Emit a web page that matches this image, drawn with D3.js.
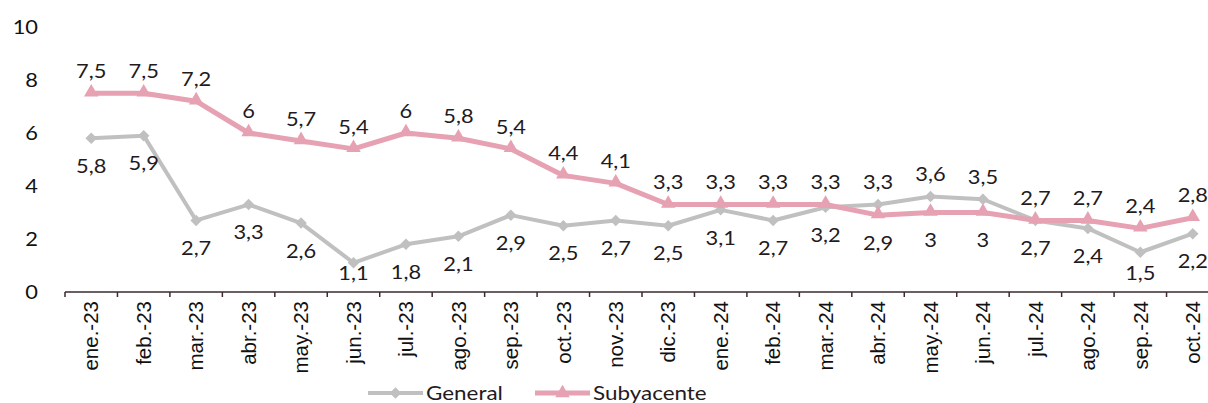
<!DOCTYPE html>
<html>
<head>
<meta charset="utf-8">
<script src="https://cdn.jsdelivr.net/npm/d3@7"></script>
<style>
  body { margin: 0; background: #fff; }
  svg { display: block; }
</style>
</head>
<body>
<svg id="chart" width="1208" height="403"></svg>
<script>
const months = ["ene.-23", "feb.-23", "mar.-23", "abr.-23", "may.-23", "jun.-23", "jul.-23", "ago.-23",
  "sep.-23", "oct.-23", "nov.-23", "dic.-23", "ene.-24", "feb.-24", "mar.-24", "abr.-24", "may.-24",
  "jun.-24", "jul.-24", "ago.-24", "sep.-24", "oct.-24"];
const general = [5.8, 5.9, 2.7, 3.3, 2.6, 1.1, 1.8, 2.1, 2.9, 2.5, 2.7, 2.5, 3.1, 2.7, 3.2, 3.3, 3.6, 3.5, 2.7, 2.4, 1.5, 2.2];
const subyacente = [7.5, 7.5, 7.2, 6, 5.7, 5.4, 6, 5.8, 5.4, 4.4, 4.1, 3.3, 3.3, 3.3, 3.3, 2.9, 3, 3, 2.7, 2.7, 2.4, 2.8];
const yTicks = [0, 2, 4, 6, 8, 10];

const grey = "#c0c0c0";
const pink = "#e6a1b3";
const labelColor = "#231a1e";
const stretch = 1.15; // text in the original is a bit wider than Lato
const fmt = v => String(v).replace(".", ",");

const svg = d3.select("#chart");

const x = d3.scaleBand().domain(months).range([65, 1219]).padding(0);
const y = d3.scaleLinear().domain([0, 10]).range([292, 27]);
const cx = d => x(d) + x.bandwidth() / 2;

// y axis, labels only
svg.append("g")
    .attr("transform", "translate(65,0)")
    .call(d3.axisLeft(y).tickValues(yTicks).tickSize(0))
    .call(g => g.select(".domain").remove())
    .call(g => g.selectAll("text")
      .attr("x", 0)
      .attr("transform", `translate(-27,0) scale(${stretch},1)`)
      .attr("font-family", "Lato, sans-serif")
      .attr("font-size", 19)
      .attr("fill", "#111"));

// x axis line + boundary ticks
const xAxis = svg.append("g").attr("transform", `translate(0,${y(0)})`);
xAxis.append("line")
    .attr("x1", x.range()[0]).attr("x2", x.range()[1])
    .attr("stroke", "#3b2a2e").attr("stroke-width", 1.5);
xAxis.selectAll("line.tick")
  .data(months.map(m => x(m)).concat([x.range()[1]]))
  .join("line")
    .attr("class", "tick")
    .attr("x1", d => d).attr("x2", d => d)
    .attr("y1", 0).attr("y2", 5)
    .attr("stroke", "#3b2a2e").attr("stroke-width", 1.5);
xAxis.selectAll("text")
  .data(months)
  .join("text")
    .attr("transform", d => `translate(${cx(d)},9) rotate(-90)`)
    .attr("text-anchor", "end")
    .attr("dy", "0.35em")
    .attr("font-family", "'Liberation Sans', Arial, sans-serif")
    .attr("font-size", 20.5)
    .attr("fill", "#111")
    .text(d => d);

const line = d3.line().x((d, i) => cx(months[i])).y(d => y(d));

const diamond = d3.symbol().type(d3.symbolDiamond2).size(85);
const triangle = d3.symbol().type(d3.symbolTriangle2).size(150);

// General series
svg.append("path")
    .datum(general)
    .attr("d", line)
    .attr("fill", "none")
    .attr("stroke", grey)
    .attr("stroke-width", 4)
    .attr("stroke-linejoin", "round");
svg.append("g").selectAll("path")
  .data(general)
  .join("path")
    .attr("d", diamond)
    .attr("transform", (d, i) => `translate(${cx(months[i])},${y(d)})`)
    .attr("fill", grey);

// Subyacente series
svg.append("path")
    .datum(subyacente)
    .attr("d", line)
    .attr("fill", "none")
    .attr("stroke", pink)
    .attr("stroke-width", 5)
    .attr("stroke-linejoin", "round");
svg.append("g").selectAll("path")
  .data(subyacente)
  .join("path")
    .attr("d", triangle)
    .attr("transform", (d, i) => `translate(${cx(months[i])},${y(d) - 1})`)
    .attr("fill", pink);

// data labels: the higher series gets its label above, the other below
const labels = svg.append("g")
    .attr("font-family", "Lato, sans-serif")
    .attr("font-size", 19)
    .attr("fill", labelColor)
    .attr("text-anchor", "middle");

function labelY(v, above) {
  return above ? y(v) - 22 : Math.min(y(v) + 28, 273);
}

labels.selectAll("text.sub")
  .data(subyacente)
  .join("text")
    .attr("class", "sub")
    .attr("transform", (d, i) => `translate(${cx(months[i])},${labelY(d, d >= general[i])}) scale(${stretch},1)`)
    .attr("dy", "0.35em")
    .text(fmt);

labels.selectAll("text.gen")
  .data(general)
  .join("text")
    .attr("class", "gen")
    .attr("transform", (d, i) => `translate(${cx(months[i])},${labelY(d, d > subyacente[i])}) scale(${stretch},1)`)
    .attr("dy", "0.35em")
    .text(fmt);

// legend
const legend = svg.append("g").attr("transform", "translate(0,393)");
const items = [
  { name: "General", color: grey, width: 4, sym: diamond, x: 368 },
  { name: "Subyacente", color: pink, width: 5, sym: triangle, x: 535 }
];
const li = legend.selectAll("g").data(items).join("g")
    .attr("transform", d => `translate(${d.x},0)`);
li.append("line")
    .attr("x1", 0).attr("x2", 55)
    .attr("stroke", d => d.color)
    .attr("stroke-width", d => d.width);
li.append("path")
    .attr("d", d => d.sym())
    .attr("transform", "translate(27.5,0)")
    .attr("fill", d => d.color);
li.append("text")
    .attr("transform", `translate(58,7) scale(${stretch},1)`)
    .attr("font-family", "Lato, sans-serif")
    .attr("font-size", 19.5)
    .attr("fill", labelColor)
    .text(d => d.name);
</script>
</body>
</html>
